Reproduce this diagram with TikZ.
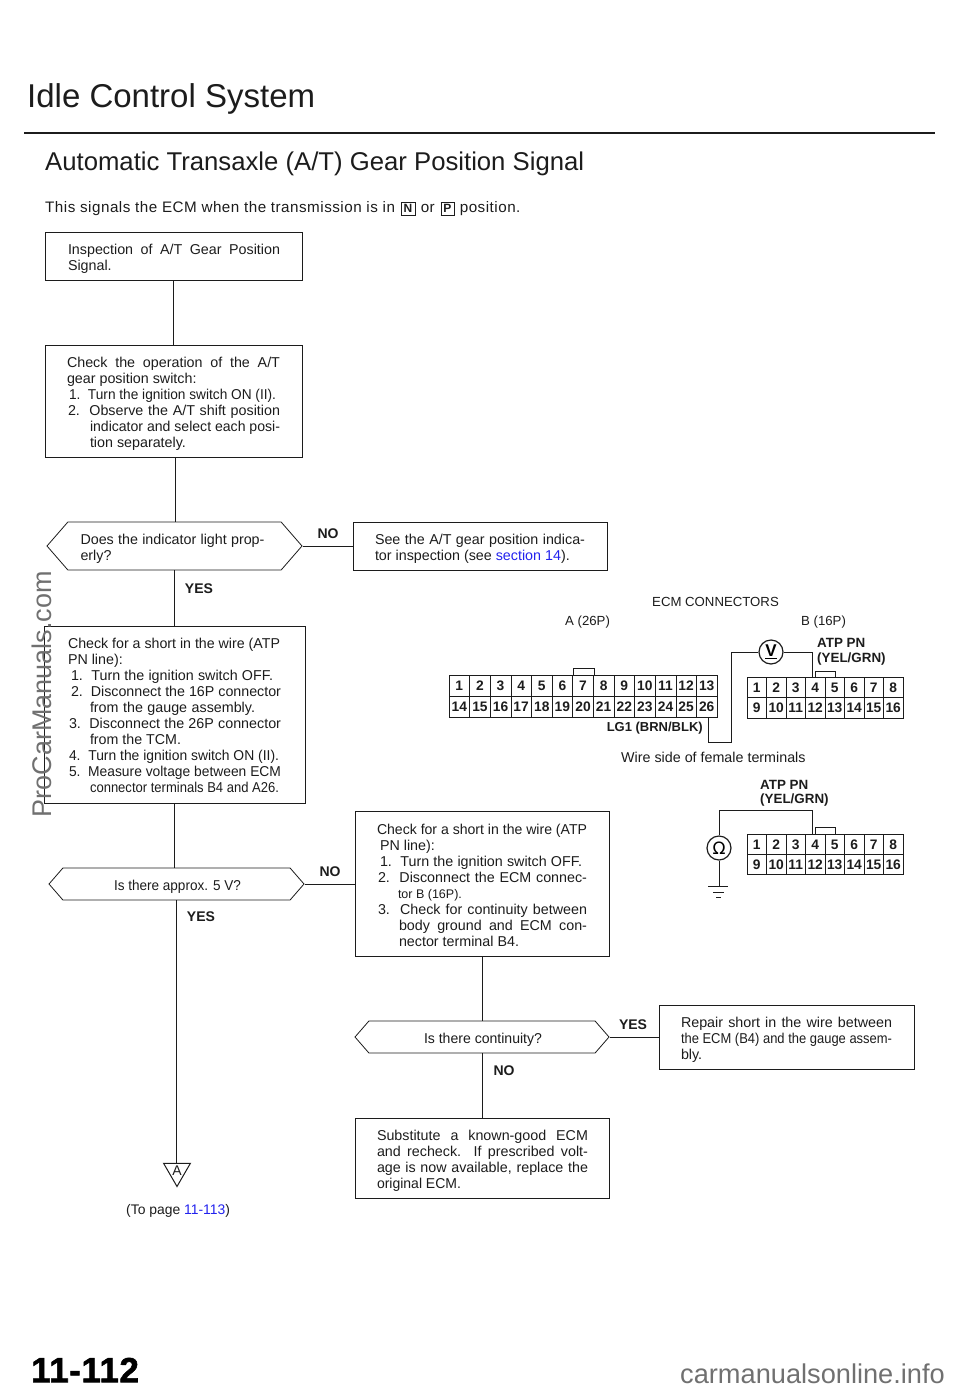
\documentclass[tikz,border=0pt]{standalone}
\usepackage{fontspec}
\usepackage{graphicx}
\setmainfont{Liberation Sans}
\usetikzlibrary{shapes.symbols,shapes.geometric}
\definecolor{ink}{HTML}{1C1C1C}
\definecolor{linkblue}{HTML}{2222EE}
\definecolor{wmark}{HTML}{707070}
\newsavebox{\linesave}
\newcommand{\jline}[3]{\hspace*{#1pt}\sbox{\linesave}{\spaceskip=0pt\relax\xspaceskip=0pt\relax #3}\ifdim\wd\linesave>#2pt\relax\resizebox{#2pt}{\height}{\usebox{\linesave}}\else\hbox to #2pt{\spaceskip=0pt\relax\xspaceskip=0pt\relax #3}\fi}
\newcommand{\iline}[2]{\hspace*{#1pt}\mbox{\spaceskip=0pt\relax\xspaceskip=0pt\relax #2}}
\tikzset{
  x=1pt,y=-1pt,
  txt/.style={font=\fontsize{14.3}{16}\selectfont,text=ink},
  flowbox/.style={rectangle,draw=ink,line width=0.8pt,inner ysep=0pt,align=left,txt,execute at begin node={\mbox{}\\[#1]}},
  flowbox/.default=0pt,
  decision/.style={signal,signal to=east and west,signal pointer angle=98,draw=ink,line width=0.8pt,inner sep=0pt,align=left,txt,execute at begin node={\mbox{}\\}},
  link/.style={line width=0.8pt,draw=ink},
  wire/.style={line width=1pt,draw=ink},
  answer/.style={font=\fontsize{14}{16}\bfseries\selectfont,text=ink,inner sep=0pt},
  pinno/.style={font=\fontsize{13.8}{14}\bfseries\selectfont,text=ink,inner sep=0pt},
  wirelabel/.style={font=\fontsize{13.4}{16}\bfseries\selectfont,text=ink,inner sep=0pt,anchor=west},
  plain/.style={txt,inner sep=0pt},
  caption/.style={font=\fontsize{13.2}{16}\selectfont,text=ink,inner sep=0pt,anchor=west},
  connbody/.style={rectangle,draw=ink,line width=1pt,inner sep=0pt},
  meter/.style={circle,draw=ink,line width=1.2pt,minimum size=24pt,inner sep=0pt,font=\fontsize{17}{18}\bfseries\selectfont},
}
\setlength{\fboxsep}{2.4pt}
\begin{document}
\begin{tikzpicture}
\useasboundingbox (0,0) rectangle (960,1390);
% header
\node[anchor=west,inner sep=0pt,text=ink,font=\fontsize{33}{36}\selectfont] (title) at (27,99) {Idle Control System};
\draw[line width=2.4pt,draw=ink] (24,133) -- (935,133);
\node[anchor=west,inner sep=0pt,text=ink,font=\fontsize{25.7}{30}\selectfont] (head) at (45,164) {Automatic Transaxle (A/T) Gear Position Signal};
\node[anchor=west,inner sep=0pt,txt,font=\fontsize{15.2}{16}\selectfont\addfontfeature{LetterSpace=3.3}] (intro) at (45,209) {This signals the ECM when the transmission is in\hspace{1pt} \fbox{\fontsize{12}{12}\bfseries N}\hspace{1pt} or\hspace{1pt} \fbox{\fontsize{12}{12}\bfseries P}\hspace{1pt} position.};

% flow boxes
\node[flowbox,minimum width=257,minimum height=48,inner xsep=23,text width=211] (b1) at (173.5,256)
 {\jline{0}{212}{Inspection of A/T Gear Position}\\\iline{0}{Signal.}};
\node[flowbox,minimum width=257,minimum height=112,inner xsep=22,text width=213] (b2) at (173.5,401)
 {\jline{0}{213}{Check the operation of the A/T}\\
  \iline{0}{gear position switch:}\\
  \jline{2}{207}{1.\ \ Turn the ignition switch ON (II).}\\
  \jline{1}{212}{2.\ \ Observe the A/T shift position}\\
  \jline{23}{190}{indicator and select each posi-}\\
  \iline{23}{tion separately.}};
\node[decision,minimum width=255,minimum height=48,text width=212] (d1) at (174.5,546)
 {\jline{12}{184}{Does the indicator light prop-}\\\iline{12}{erly?}};
\node[flowbox,minimum width=254,minimum height=48,inner xsep=22,text width=210] (b3) at (480,546)
 {\jline{0}{210}{See the A/T gear position indica-}\\\iline{0}{tor inspection (see \textcolor{linkblue}{section 14}).}};
\node[flowbox=-3pt,minimum width=259,minimum height=177,inner xsep=24,text width=213] (b4) at (174.5,714.5)
 {\jline{0}{212}{Check for a short in the wire (ATP}\\
  \iline{0}{PN line):}\\
  \jline{3}{202}{1.\ \ Turn the ignition switch OFF.}\\
  \jline{3}{210}{2.\ \ Disconnect the 16P connector}\\
  \jline{22}{165}{from the gauge assembly.}\\
  \jline{1}{212}{3.\ \ Disconnect the 26P connector}\\
  \jline{22}{91}{from the TCM.}\\
  \jline{1}{210}{4.\ \ Turn the ignition switch ON (II).}\\
  \jline{1}{212}{5.\ \ Measure voltage between ECM}\\
  \jline{22}{189}{connector terminals B4 and A26.}};
\node[decision,minimum width=255,minimum height=32,text width=213] (d2) at (176.5,884)
 {\jline{44}{127}{Is there approx. 5 V?}};
\node[flowbox=-2pt,minimum width=254,minimum height=145,inner xsep=22,text width=210] (b5) at (482,883.5)
 {\jline{0}{210}{Check for a short in the wire (ATP}\\
  \iline{3}{PN line):}\\
  \jline{3}{202}{1.\ \ Turn the ignition switch OFF.}\\
  \jline{1}{209}{2.\ \ Disconnect the ECM connec-}\\
  \iline{21}{\fontsize{12.5}{16}\selectfont tor B (16P).}\\
  \jline{1}{209}{3.\ \ Check for continuity between}\\
  \jline{22}{188}{body ground and ECM con-}\\
  \iline{22}{nector terminal B4.}};
\node[decision,minimum width=254,minimum height=32,text width=212] (d3) at (482,1037)
 {\jline{48}{118}{Is there continuity?}};
\node[flowbox,minimum width=255,minimum height=64,inner xsep=22,text width=211] (b6) at (786.5,1037)
 {\jline{0}{211}{Repair short in the wire between}\\
  \jline{0}{211}{the ECM (B4) and the gauge assem-}\\\iline{0}{bly.}};
\node[flowbox,minimum width=254,minimum height=80,inner xsep=22,text width=210] (b7) at (482,1158)
 {\jline{0}{211}{Substitute a known-good ECM}\\
  \jline{0}{211}{and recheck. If prescribed volt-}\\
  \jline{0}{211}{age is now available, replace the}\\
  \jline{0}{84}{original ECM.}};
\node[regular polygon,regular polygon sides=3,shape border rotate=180,draw=ink,line width=1pt,minimum size=31pt,inner sep=0pt,font=\fontsize{14}{14}\selectfont,text=ink] (tri) at (177,1171) {A};
\node[plain,anchor=west,font=\fontsize{13.9}{16}\selectfont] (topage) at (126,1211) {(To page \textcolor{linkblue}{11-113})};

% flow connectors
\draw[link] (b1.south) -- (b1.south |- b2.north);
\draw[link] ([xshift=1.5pt]b2.south) -- ([xshift=1.5pt]b2.south |- d1.north);
\draw[link] (d1.south) -- (d1.south |- b4.north);
\draw[link] (d1.east) -- (d1.east -| b3.west);
\draw[link] (b4.south) -- (b4.south |- d2.north);
\draw[link] (d2.south) -- (d2.south |- tri.side 2);
\draw[link] (d2.east) -- (d2.east -| b5.west);
\draw[link] (b5.south) -- (d3.north);
\draw[link] (d3.south) -- (b7.north);
\draw[link] (d3.east) -- (b6.west);

% answers
\node[answer] (no1) at (328,534) {NO};
\node[answer] (yes1) at (199,589) {YES};
\node[answer] (no2) at (330,872) {NO};
\node[answer] (yes2) at (201,917) {YES};
\node[answer] (yes3) at (633,1025) {YES};
\node[answer] (no3) at (504,1071) {NO};

% connector captions
\node[caption] (cap) at (652,602) {ECM CONNECTORS};
\node[caption] (capa) at (565,622) {A (26P)};
\node[caption] (capb) at (801,622) {B (16P)};
\node[plain,anchor=west,font=\fontsize{14.3}{16}\selectfont] (capw) at (621,757) {Wire side of female terminals};

% connector A
\node[connbody,minimum width=268,minimum height=42] (ca) at (583,696) {};
\draw[connbody] (573,675) -- (573,668) -- (594,668) -- (594,675);
\draw[wire] (449,696.5) -- (717,696.5);
\foreach \i in {1,...,12}{\draw[line width=0.6pt,draw=ink] ({449+\i*20.62},675) -- ({449+\i*20.62},717);}
\foreach \n [count=\i from 0] in {1,...,13}{\node[pinno] (a\n) at ({459.3+\i*20.62},686) {\n};}
\foreach \n [count=\i from 0] in {14,...,26}{\node[pinno] (a\n) at ({459.3+\i*20.62},707) {\n};}

% connector B upper
\node[connbody,minimum width=156,minimum height=41] (cb) at (825,697.5) {};
\draw[line width=0.8pt,draw=ink] (815,677) -- (815,671) -- (835,671) -- (835,677);
\draw[wire] (747,697.5) -- (903,697.5);
\foreach \i in {1,...,7}{\draw[line width=0.6pt,draw=ink] ({747+\i*19.5},677) -- ({747+\i*19.5},718);}
\foreach \n [count=\i from 0] in {1,...,8}{\node[pinno] (u\n) at ({756.7+\i*19.5},688) {\n};}
\foreach \n [count=\i from 0] in {9,...,16}{\node[pinno] (u\n) at ({756.7+\i*19.5},708) {\n};}

% volt meter
\node[meter] (vm) at (771,652) {\underline{V}};
\coordinate (pin26) at (708,717);
\coordinate (wa) at (731,742);
\coordinate (pinb4) at (812,677);
\draw[wire] (pin26) |- (wa) |- (vm.west);
\draw[wire] (vm.east) -| (pinb4);
\node[wirelabel] (atp1) at (817,643) {ATP PN};
\node[wirelabel] (atp2) at (817,659) {(YEL/GRN)};
\node[wirelabel,anchor=east,font=\fontsize{13}{16}\bfseries\selectfont] (lg1) at (703,728) {LG1 (BRN/BLK)};

% connector B lower
\node[connbody,minimum width=156,minimum height=40] (cc) at (825,854) {};
\draw[line width=0.8pt,draw=ink] (815,834) -- (815,827) -- (835,827) -- (835,834);
\draw[wire] (747,854) -- (903,854);
\foreach \i in {1,...,7}{\draw[line width=0.6pt,draw=ink] ({747+\i*19.5},834) -- ({747+\i*19.5},874);}
\foreach \n [count=\i from 0] in {1,...,8}{\node[pinno] (l\n) at ({756.7+\i*19.5},845) {\n};}
\foreach \n [count=\i from 0] in {9,...,16}{\node[pinno] (l\n) at ({756.7+\i*19.5},865) {\n};}

% ohm meter
\node[meter] (om) at (719,848) {\fontspec{DejaVu Sans}\mdseries\fontsize{17}{18}\selectfont Ω};
\coordinate (pinc4) at (812,834);
\coordinate (wb) at (812,810);
\coordinate (gnd) at (719,886);
\draw[wire] (om.north) |- (wb) -- (pinc4);
\draw[wire] (om.south) -- (gnd);
\draw[wire] (708,886) -- (728,886);
\draw[wire] (713,892) -- (724,892);
\draw[wire] (716,897) -- (721,897);
\node[wirelabel] (atp3) at (760,785) {ATP PN};
\node[wirelabel] (atp4) at (760,800) {(YEL/GRN)};

% page number and page marks
\node[anchor=west,inner sep=0pt,text=black,font=\fontsize{35}{38}\bfseries\selectfont\addfontfeature{LetterSpace=1.5,FakeBold=1.5}] (pg) at (31,1370) {11-112};
\node[rotate=90,inner sep=0pt,text=wmark,font=\fontsize{27}{32}\selectfont] (wm1) at (42,694) {ProCarManuals.com};
\node[anchor=east,inner sep=0pt,text=wmark,font=\fontsize{27.2}{30}\selectfont] (wm2) at (945,1374) {carmanualsonline.info};
\end{tikzpicture}
\end{document}
